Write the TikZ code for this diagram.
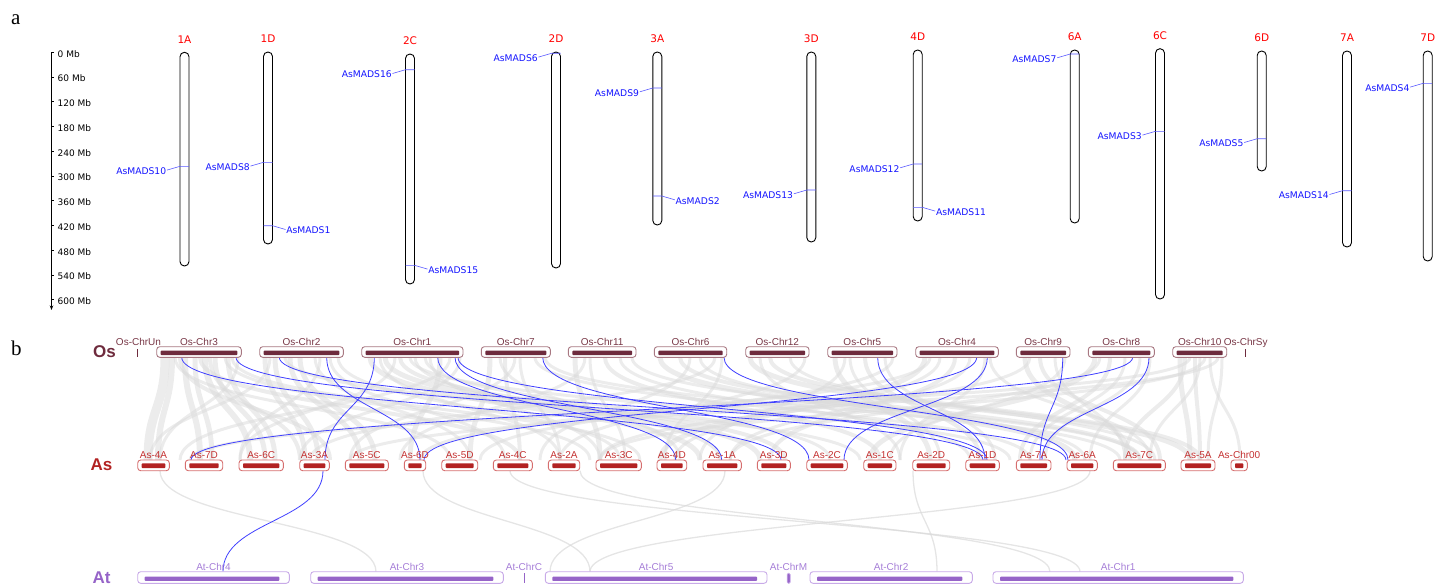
\documentclass[tikz,border=0pt]{standalone}
\usepackage{fontspec}
\newfontfamily\dvs{DejaVu Sans}
\newfontfamily\lib{Liberation Sans}
\newfontfamily\libser{Liberation Serif}
\usetikzlibrary{calc,arrows.meta}
\definecolor{osdark}{RGB}{110,43,61}
\definecolor{osline}{RGB}{168,120,130}
\definecolor{oslab}{RGB}{120,55,70}
\definecolor{asdark}{RGB}{178,34,34}
\definecolor{asline}{RGB}{214,110,110}
\definecolor{aslab}{RGB}{196,50,50}
\definecolor{atdark}{RGB}{150,100,200}
\definecolor{atline}{RGB}{200,170,232}
\definecolor{atlab}{RGB}{165,125,215}
\definecolor{linkblue}{RGB}{64,64,255}
\definecolor{ribbon}{RGB}{218,218,218}
\definecolor{genelab}{RGB}{20,20,255}
\definecolor{geneline}{RGB}{90,90,255}
\begin{document}
\begin{tikzpicture}[x=1pt,y=-1pt,
  chromA/.style={draw=black,line width=0.9pt,rounded corners=4.4pt,fill=white,inner sep=0,minimum width=9pt},
  chrlab/.style={font=\dvs\fontsize{10.5}{12}\selectfont,text=red,inner sep=0},
  genetxt/.style={font=\dvs\fontsize{9.2}{11}\selectfont,text=genelab,inner sep=0.6pt},
  geneln/.style={draw=geneline,line width=0.6pt},
  scaletxt/.style={font=\dvs\fontsize{9}{11}\selectfont,anchor=west,inner sep=0},
  panel/.style={font=\libser\fontsize{21}{24}\selectfont,anchor=base west,inner sep=0},
  species/.style={font=\lib\bfseries\fontsize{17}{20}\selectfont,anchor=base west,inner sep=0},
  osbox/.style={draw=osline,fill=white,line width=0.9pt,rounded corners=3pt,minimum height=10.6pt,inner sep=0},
  asbox/.style={draw=asline,fill=white,line width=0.9pt,rounded corners=3pt,minimum height=10.7pt,inner sep=0},
  atbox/.style={draw=atline,fill=white,line width=0.9pt,rounded corners=3pt,minimum height=11.6pt,inner sep=0},
  oslabel/.style={font=\lib\fontsize{10}{12}\selectfont,text=oslab,inner sep=0},
  aslabel/.style={font=\lib\fontsize{10}{12}\selectfont,text=aslab,inner sep=0},
  atlabel/.style={font=\lib\fontsize{10}{12}\selectfont,text=atlab,inner sep=0},
  graylink/.style={draw=ribbon,opacity=0.5},
  bluelink/.style={draw=linkblue,line width=0.8pt}
]
\useasboundingbox (0,0) rectangle (1439,586);

% ---------------- panel a ----------------
\node[panel] (pa) at (11,25) {a};
\draw[line width=1pt,-{Stealth[length=4.5pt,width=3.5pt]}] (54,52.3) -- (51.5,52.3) -- (51.5,310);
\foreach \i in {0,...,10}{
  \pgfmathtruncatemacro\mb{\i*60}
  \draw[line width=0.8pt] (51.5,52.3+24.74*\i) -- (54,52.3+24.74*\i);
  \node[scaletxt] (sc\i) at (57.5,53.8+24.74*\i) {\mb\ Mb};
}
\foreach \nm/\cx/\tp/\bt in {1A/184.5/52.3/266,1D/268/52/244,2C/410/54/284,2D/556/52/268,3A/657.3/52/225,3D/811.3/52/242,4D/917.7/50/221,6A/1074.7/50/223,6C/1160/48.7/299,6D/1261.7/51/171,7A/1347/51/247,7D/1427.7/51/261}{
  \pgfmathsetmacro\hh{\bt-\tp}
  \pgfmathsetmacro\mm{(\bt+\tp)/2}
  \node[chromA,minimum height=\hh pt] (c\nm) at (\cx,\mm) {};
  \node[chrlab] (l\nm) at (\cx,\tp-13) {\nm};
}
% genes with label on the left
\foreach \g/\cx/\y in {AsMADS10/184.5/166.3,AsMADS8/268/162.3,AsMADS16/410/69.7,AsMADS6/556/53.3,AsMADS9/657.3/88,AsMADS13/811.3/190,AsMADS12/917.7/164,AsMADS7/1074.7/54,AsMADS3/1160/131.3,AsMADS5/1261.7/138.7,AsMADS14/1347/190.7,AsMADS4/1427.7/83.3}{
  \node[genetxt,anchor=east] (g\g) at (\cx-17.5,\y+4.8) {\g};
  \draw[geneln] (\cx+4.5,\y) -- (\cx-4.5,\y) -- ($(g\g.east)+(0,-1)$);
}
% genes with label on the right
\foreach \g/\cx/\y in {AsMADS1/268/225.7,AsMADS15/410/265.3,AsMADS2/657.3/196,AsMADS11/917.7/207.3}{
  \node[genetxt,anchor=west] (g\g) at (\cx+17.5,\y+4.8) {\g};
  \draw[geneln] (\cx-4.5,\y) -- (\cx+4.5,\y) -- ($(g\g.west)+(0,-1)$);
}

% ---------------- panel b ----------------
\node[panel] (pb) at (11,355) {b};
\node[species,text=osdark] (sOs) at (93,357.5) {Os};
\node[species,text=asdark] (sAs) at (90.5,470.5) {As};
\node[species,text=atdark] (sAt) at (92.5,583) {At};

% gray synteny ribbons Os-As
\foreach \sx/\tx/\wd in {165/148/9,172/158/6,185/200/6,195/212/5,205/250/6,215/265/5,228/275/5,238/160/3,
175/450/3,200/520/4,225/590/3,232/640/3,180/330/4,210/300/4,
265/305/5,275/318/5,290/360/5,300/375/5,315/470/3,330/505/3,338/620/3,285/860/3,270/150/3,320/240/3,
370/700/5,385/760/5,400/785/4,415/720/3,425/830/3,440/410/5,450/180/3,395/240/3,460/300/3,410/1010/3,380/560/3,430/600/3,
490/470/5,505/520/4,520/560/3,535/1030/3,545/1120/3,500/680/3,515/350/3,
575/600/5,590/625/3,605/880/4,620/970/3,632/1140/3,585/400/3,
660/1075/5,680/1140/4,700/1085/3,715/310/3,722/665/3,690/540/3,
750/1190/5,770/1200/4,790/1155/3,805/560/3,760/900/3,
835/930/5,850/940/3,865/980/4,885/995/3,893/480/3,845/700/3,
925/660/5,940/675/3,955/770/4,970/730/3,990/1150/3,930/420/3,985/900/3,
1025/1130/5,1040/1160/4,1055/1125/3,1065/890/3,1030/600/3,
1095/870/5,1110/1020/4,1125/1030/3,1140/1045/3,1150/1090/3,1100/730/3,
1180/1190/5,1195/1200/4,1210/1240/3,1222/1208/3,1190/190/3,1205/600/3,1218/350/3,1185/1125/4,1200/1150/3}{
  \draw[graylink,line width=\wd pt] (\sx,357.3) .. controls (\sx,408.5) and (\tx,408.5) .. (\tx,460);
}
% gray synteny ribbons As-At
\foreach \sx/\tx in {160/376,423/590,1090/590,913/937,725/550,580/1050,510/1080}{
  \draw[graylink,line width=1.3pt,opacity=0.7] (\sx,470.7) .. controls (\sx,521) and (\tx,521) .. (\tx,571.7);
}

% blue MADS links Os-As
\foreach \sx/\tx [count=\i] in {181.7/781,236/983,279.3/1066,326.7/420,374.3/325,437.7/675.7,455/721.7,458/987,542.7/809,724/1068,877.7/985,976.7/424,987.3/844,1062.7/1040,1132.7/191,1149/1042}{
  \coordinate (bs\i) at (\sx,357.3);
  \coordinate (bt\i) at (\tx,460);
  \draw[bluelink] (bs\i) .. controls ($(bs\i)+(0,51.35)$) and ($(bt\i)+(0,-51.35)$) .. (bt\i);
}
% blue link As-At
\coordinate (ba) at (323,470.7);
\coordinate (bb) at (223,571.7);
\draw[bluelink] (ba) .. controls ($(ba)+(0,50.5)$) and ($(bb)+(0,-50.5)$) .. (bb);

% Os chromosomes
\foreach \nm/\xa/\xb in {Os-Chr3/156.7/241.3,Os-Chr2/259.7/343.3,Os-Chr1/361.7/463,Os-Chr7/481.3/550.3,Os-Chr11/568.3/636,Os-Chr6/654.3/726.7,Os-Chr12/745.7/809,Os-Chr5/827.7/897,Os-Chr4/915.7/998.3,Os-Chr9/1016.3/1070,Os-Chr8/1088.3/1154.3,Os-Chr10/1172.7/1226.7}{
  \pgfmathsetmacro\mywid{\xb-\xa}
  \pgfmathsetmacro\mymid{(\xa+\xb)/2}
  \node[osbox,minimum width=\mywid pt] (\nm) at (\mymid,352) {};
  \fill[osdark,rounded corners=0.8pt] (\xa+4,350.7) rectangle (\xb-4,355.1);
  \node[oslabel] (t\nm) at (\mymid,341.7) {\nm};
}
\draw[osdark,line width=1.3pt] (137.7,349.3) -- (137.7,356.7);
\node[oslabel] (tOsUn) at (138.5,341.7) {Os-ChrUn};
\draw[osdark,line width=1.3pt] (1245.3,349.3) -- (1245.3,356.7);
\node[oslabel,anchor=base] (tOsSy) at (1245.7,345) {Os-ChrSy};

% As chromosomes
\foreach \nm/\xa/\xb in {As-4A/137.7/169.3,As-7D/185.3/222.7,As-6C/239/283.3,As-3A/299.7/329.3,As-5C/345.3/388.3,As-6D/404.3/425.7,As-5D/441.7/477.7,As-4C/493.3/532.3,As-2A/548.3/579.7,As-3C/596/641.3,As-4D/657/686.7,As-1A/703/741.3,As-3D/757.3/790.3,As-2C/806.7/847.3,As-1C/863.7/896,As-2D/912.7/949.7,As-1D/965.7/999.3,As-7A/1016.3/1051,As-6A/1067/1097.3,As-7C/1113.3/1165.3,As-5A/1181/1215,As-Chr00/1231/1247.3}{
  \pgfmathsetmacro\mywid{\xb-\xa}
  \pgfmathsetmacro\mymid{(\xa+\xb)/2}
  \node[asbox,minimum width=\mywid pt] (\nm) at (\mymid,465.35) {};
  \fill[asdark,rounded corners=0.8pt] (\xa+4,463.3) rectangle (\xb-4,468);
  \node[aslabel] (t\nm) at (\mymid,455) {\nm};
}

% At chromosomes
\foreach \nm/\xa/\xb in {At-Chr4/137.7/289.3,At-Chr3/310.7/503.3,At-Chr5/545.3/767,At-Chr2/810/972.3,At-Chr1/993/1243.3}{
  \pgfmathsetmacro\mywid{\xb-\xa}
  \pgfmathsetmacro\mymid{(\xa+\xb)/2}
  \node[atbox,minimum width=\mywid pt] (\nm) at (\mymid,577.5) {};
  \fill[atdark,rounded corners=0.8pt] (\xa+7,576.7) rectangle (\xb-10,580.9);
  \node[atlabel] (t\nm) at (\mymid,567.3) {\nm};
}
\draw[atdark,line width=1.3pt] (524.3,573.3) -- (524.3,583.3);
\node[atlabel] (tAtC) at (524,567.3) {At-ChrC};
\node[draw=atline,fill=atdark,line width=0.7pt,rounded corners=1.2pt,minimum width=3pt,minimum height=10pt,inner sep=0] (AtM) at (788.7,578.3) {};
\node[atlabel] (tAtM) at (788.5,567.3) {At-ChrM};
\end{tikzpicture}
\end{document}
